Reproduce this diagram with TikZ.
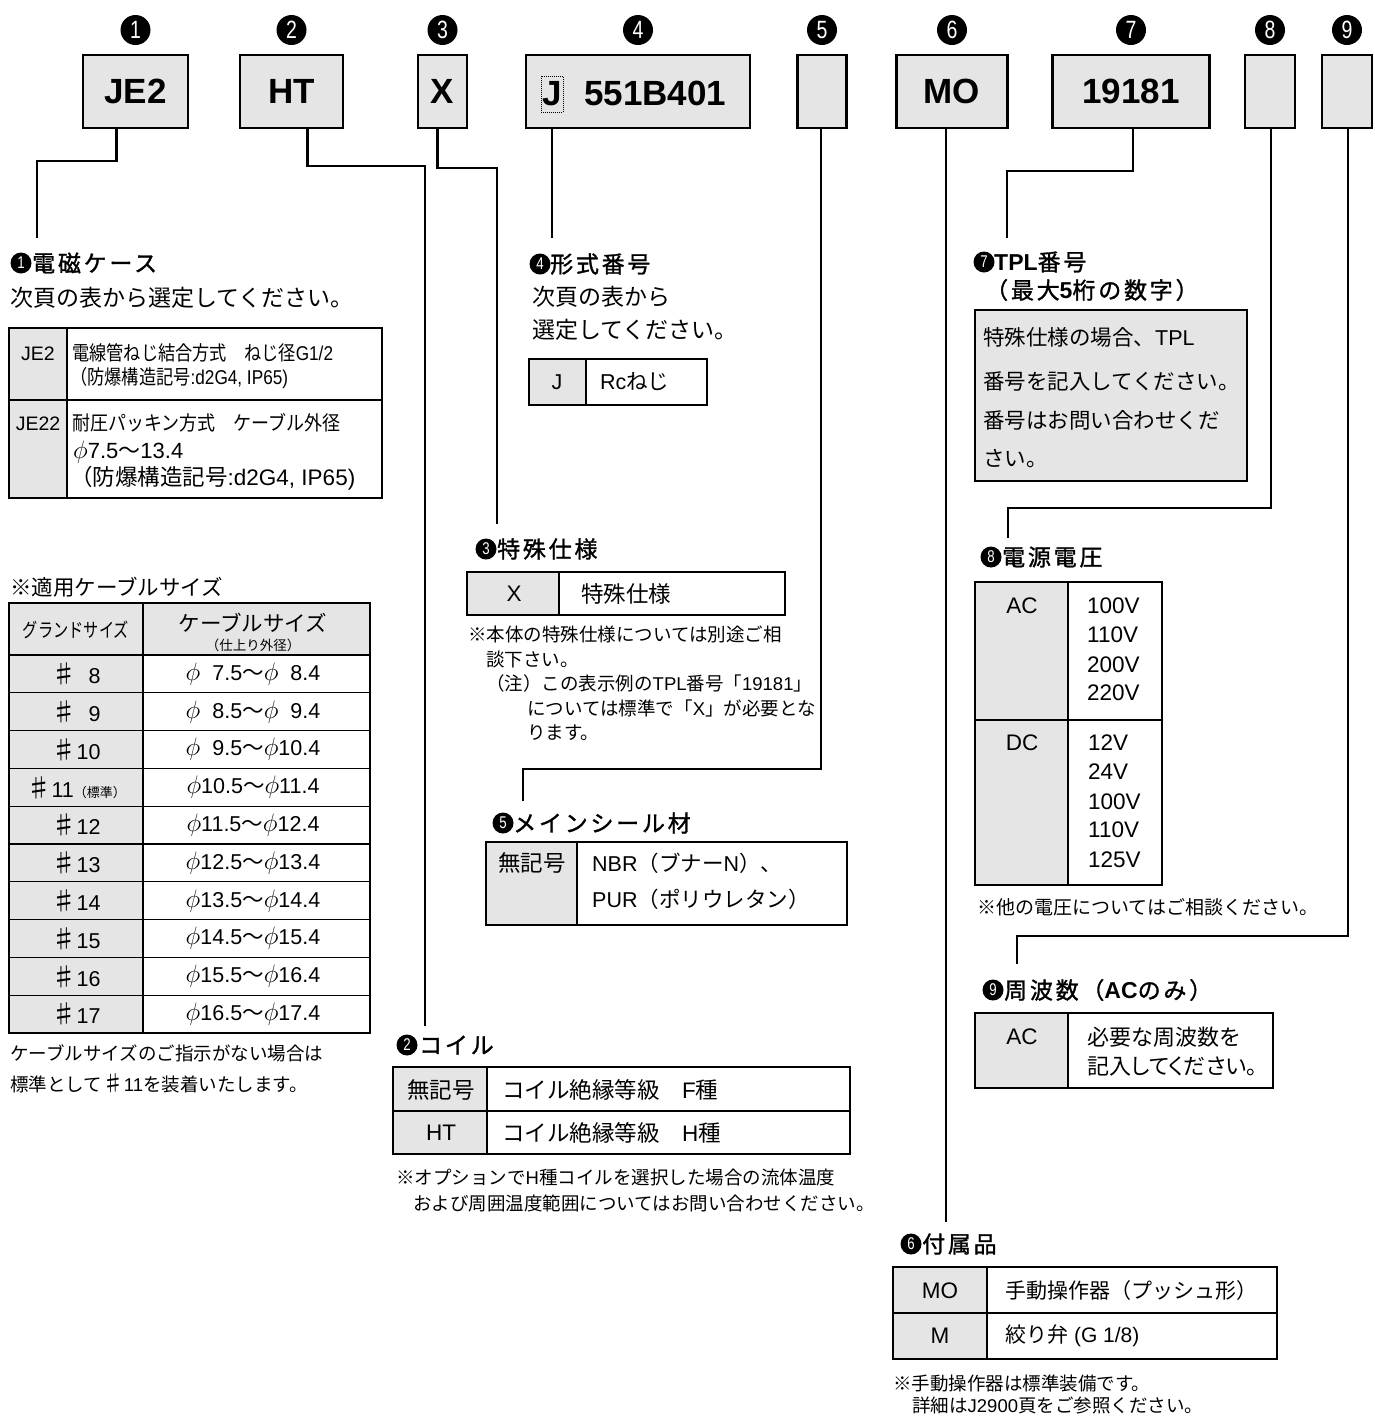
\documentclass[tikz,border=0pt]{standalone}
\usepackage{fontspec}
\usepackage{graphicx}
\usetikzlibrary{calc}
\setmainfont{Liberation Sans}
\newfontfamily\latf{Liberation Sans}
\newfontfamily\jpf{Noto Sans CJK JP}
\newfontfamily\jppf{Noto Sans CJK JP}[RawFeature=+palt]
\newfontfamily\jphf{Noto Sans CJK JP}[LetterSpace=12, BoldFont=Noto Sans CJK JP, BoldFeatures={FakeBold=1.3}]
\newfontfamily\numf{Liberation Sans}[FakeStretch=0.78]
\XeTeXinterchartokenstate=1
\newXeTeXintercharclass\jpcls
\newcount\jpcnt
\def\setjprange#1#2{\jpcnt=#1\relax
  \loop
    \XeTeXcharclass\jpcnt=\jpcls
  \ifnum\jpcnt<#2\relax
    \advance\jpcnt by 1\relax
  \repeat}
\setjprange{"3000}{"30FF}
\setjprange{"4E00}{"9FFF}
\setjprange{"FF00}{"FFEF}
\XeTeXcharclass"203B=\jpcls
\XeTeXcharclass"266F=\jpcls
\XeTeXinterchartoks 0 \jpcls = {\jpf}
\XeTeXinterchartoks 4095 \jpcls = {\jpf}
\XeTeXinterchartoks \jpcls 0 = {\latf}
\XeTeXinterchartoks \jpcls 4095 = {\latf}
\newcommand\fsz[2]{\fontsize{#1}{#2}\selectfont}
\newcommand\phis{\scalebox{1.22}{$\phi$}}
\newcommand\shp{\scalebox{1.18}{♯}}
\definecolor{bg}{RGB}{229,229,229}
\tikzset{
  topbox/.style={draw, line width=2.4pt, fill=bg, minimum height=73pt, inner sep=0pt, font=\bfseries\fsz{35}{40}},
  bignum/.style={circle, fill=black, text=white, inner sep=0pt, minimum size=30pt, font=\numf\fsz{25}{25}},
  smnum/.style={circle, fill=black, text=white, inner sep=0pt, minimum size=21pt, font=\numf\fsz{17}{17}},
  conn/.style={line width=2.2pt},
  lbl/.style={inner sep=0pt, anchor=west},
  ctr/.style={inner sep=0pt, anchor=center},
  head/.style={lbl, font=\bfseries\let\jpf\jphf\fsz{23}{28}},
  outer/.style={line width=2.6pt},
  inner/.style={line width=1.3pt},
  note/.style={lbl, font=\fsz{18.5}{22}},
  cell/.style={font=\fsz{22.5}{26}},
}
\begin{document}
\begin{tikzpicture}[x=1pt,y=-1pt]
\useasboundingbox (0,0) rectangle (1375,1417);
\fill[white] (0,0) rectangle (1375,1417);

% ---------- top code boxes ----------
\node[topbox, minimum width=105pt] (b1) at (135.5,91.5) {JE2};
\node[topbox, minimum width=103pt] (b2) at (291.5,91.5) {HT};
\node[topbox, minimum width=49pt] (b3) at (442.5,91.5) {X};
\node[topbox, minimum width=224pt] (b4) at (638,91.5) {};
\node[ctr, draw, densely dotted, line width=1pt, minimum width=22pt, minimum height=36pt, font=\bfseries\fsz{35}{40}] (b4j) at (552,94) {J};
\node[lbl, font=\bfseries\fsz{35}{40}] (b4n) at (584,93) {551B401};
\node[topbox, minimum width=49pt] (b5) at (822,91.5) {};
\node[topbox, minimum width=111pt] (b6) at (952,91.5) {MO};
\node[topbox, minimum width=157pt] (b7) at (1131,91.5) {19181};
\node[topbox, minimum width=50pt] (b8) at (1270,91.5) {};
\node[topbox, minimum width=50pt] (b9) at (1347,91.5) {};

\node[bignum] (n1) at (135.5,30) {1};
\node[bignum] (n2) at (291.5,30) {2};
\node[bignum] (n3) at (442.5,30) {3};
\node[bignum] (n4) at (638,30) {4};
\node[bignum] (n5) at (822,30) {5};
\node[bignum] (n6) at (952,30) {6};
\node[bignum] (n7) at (1131,30) {7};
\node[bignum] (n8) at (1270,30) {8};
\node[bignum] (n9) at (1347,30) {9};

% ---------- headings ----------
\node[smnum] (h1n) at (21,263) {1};
\node[head] (h1) at (32,263) {電磁ケース};
\node[smnum] (h4n) at (540,264) {4};
\node[head] (h4) at (550,264) {形式番号};
\node[smnum] (h3n) at (486,549) {3};
\node[head] (h3) at (497,549) {特殊仕様};
\node[smnum] (h5n) at (503,823) {5};
\node[head] (h5) at (513,823) {メインシール材};
\node[smnum] (h2n) at (407,1045) {2};
\node[head] (h2) at (419,1045) {コイル};
\node[smnum] (h7n) at (984,262) {7};
\node[head] (h7) at (994,262) {TPL番号};
\node[head] (h7b) at (985,290) {（最大5桁の数字）};
\node[smnum] (h8n) at (991,557) {8};
\node[head] (h8) at (1002,557) {電源電圧};
\node[smnum] (h9n) at (993,990) {9};
\node[head] (h9) at (1004,990) {周波数（ACのみ）};
\node[smnum] (h6n) at (911,1244) {6};
\node[head] (h6) at (922,1244) {付属品};

% ---------- connectors ----------
\coordinate (e1) at (37,238);
\coordinate (e2) at (425,1026);
\coordinate (e3) at (497,524);
\coordinate (e4) at (552,238);
\coordinate (e5) at (523,801);
\coordinate (e6) at (946,1222);
\coordinate (e7) at (1007,238);
\coordinate (e8) at (1008,538);
\coordinate (e9) at (1017,964);
\draw[conn] ([xshift=-19pt]b1.south) -- ++(0,32) -| (e1);
\draw[conn] ([xshift=16pt]b2.south) -- ++(0,37) -| (e2);
\draw[conn] ([xshift=-5pt]b3.south) -- ++(0,39) -| (e3);
\draw[conn] (b4.south -| b4j.south) -- (e4);
\draw[conn] ([xshift=-1pt]b5.south) -- ++(0,640) -| (e5);
\draw[conn] ([xshift=-6pt]b6.south) -- (e6);
\draw[conn] ([xshift=2pt]b7.south) -- ++(0,42) -| (e7);
\draw[conn] ([xshift=1pt]b8.south) -- ++(0,379) -| (e8);
\draw[conn] ([xshift=1pt]b9.south) -- ++(0,807) -| (e9);

% ---------- section 1 ----------
\node[lbl, font=\fsz{23}{28}] (s1a) at (10,298) {次頁の表から選定してください。};
\fill[bg] (9,328) rectangle (67,498);
\draw[inner] (67,328) -- (67,498);
\draw[inner] (9,400) -- (382,400);
\draw[outer] (9,328) rectangle (382,498);
\node[ctr, font=\fsz{19.5}{22}] (t1k1) at (38,354) {JE2};
\node[lbl, font=\fsz{20}{22}] (t1v1) at (72,353) {\scalebox{0.86}[1]{電線管ねじ結合方式　ねじ径G1/2}};
\node[lbl, font=\fsz{20}{22}] (t1v1b) at (70,378) {\scalebox{0.86}[1]{（防爆構造記号:d2G4, IP65)}};
\node[ctr, font=\fsz{19.5}{22}] (t1k2) at (38,424) {JE22};
\node[lbl, font=\fsz{20}{22}] (t1v2) at (72,423) {\scalebox{0.9}[1]{耐圧パッキン方式　ケーブル外径}};
\node[lbl, font=\fsz{22}{26}] (t1v2b) at (73,452) {\phis7.5〜13.4};
\node[lbl, font=\fsz{22.5}{26}] (t1v2c) at (70,478) {（防爆構造記号:d2G4, IP65)};

% ---------- cable size table ----------
\node[lbl, font=\fsz{21.5}{26}] (cst) at (10,587) {※適用ケーブルサイズ};
\fill[bg] (9,603) rectangle (370,655);
\fill[bg] (9,603) rectangle (143,1033);
\draw[inner] (143,603) -- (143,1033);
\foreach \k in {0,...,9} { \draw[inner] (9,{655+37.8*\k}) -- (370,{655+37.8*\k}); }
\draw[outer] (9,603) rectangle (370,1033);
\node[ctr, font=\fsz{19.5}{22}] (cgh) at (76,630) {\scalebox{0.78}[1]{グランドサイズ}};
\node[ctr, font=\fsz{21.5}{24}] (csh) at (253,623) {ケーブルサイズ};
\node[ctr, font=\fsz{13.5}{16}] (csh2) at (253,645) {（仕上り外径）};
\foreach \i/\g/\c in {
  0/{\shp\hphantom{1}8}/{\phis\hphantom{1}7.5〜\phis\hphantom{1}8.4},
  1/{\shp\hphantom{1}9}/{\phis\hphantom{1}8.5〜\phis\hphantom{1}9.4},
  2/{\shp10}/{\phis\hphantom{1}9.5〜\phis10.4},
  3/{\shp11{\fsz{13}{14}（標準）}}/{\phis10.5〜\phis11.4},
  4/{\shp12}/{\phis11.5〜\phis12.4},
  5/{\shp13}/{\phis12.5〜\phis13.4},
  6/{\shp14}/{\phis13.5〜\phis14.4},
  7/{\shp15}/{\phis14.5〜\phis15.4},
  8/{\shp16}/{\phis15.5〜\phis16.4},
  9/{\shp17}/{\phis16.5〜\phis17.4}} {
  \node[ctr, font=\fsz{21.5}{24}] (cg\i) at (76,{674+37.8*\i}) {\g};
  \node[ctr, font=\fsz{21.5}{24}] (cs\i) at (253,{674+37.8*\i}) {\c};
}
\node[note] (csn1) at (10,1053) {ケーブルサイズのご指示がない場合は};
\node[note] (csn2) at (10,1083) {標準として\shp11を装着いたします。};

% ---------- section 4 ----------
\node[lbl, font=\fsz{23}{28}] (s4a) at (532,297) {次頁の表から};
\node[lbl, font=\fsz{23}{28}] (s4b) at (532,330) {選定してください。};
\fill[bg] (529,359) rectangle (586,405);
\draw[inner] (586,359) -- (586,405);
\draw[outer] (529,359) rectangle (707,405);
\node[ctr, font=\fsz{21.5}{24}] (t4k) at (557,382) {J};
\node[lbl, font=\fsz{21.5}{24}] (t4v) at (600,382) {Rcねじ};

% ---------- section 3 ----------
\fill[bg] (467,572) rectangle (559,615);
\draw[inner] (559,572) -- (559,615);
\draw[outer] (467,572) rectangle (785,615);
\node[ctr, cell] (t3k) at (514,594) {X};
\node[lbl, cell] (t3v) at (581,594) {特殊仕様};
\node[note] (n3a) at (468,634) {※本体の特殊仕様については別途ご相};
\node[note] (n3b) at (486,659) {談下さい。};
\node[note] (n3c) at (486,683) {（注）この表示例のTPL番号「19181」};
\node[note] (n3d) at (527,708) {については標準で「X」が必要とな};
\node[note] (n3e) at (527,733) {ります。};

% ---------- section 5 ----------
\fill[bg] (486,842) rectangle (577,925);
\draw[inner] (577,842) -- (577,925);
\draw[outer] (486,842) rectangle (847,925);
\node[ctr, cell] (t5k) at (532,863) {無記号};
\node[lbl, font=\fsz{21.5}{24}] (t5v1) at (592,863) {NBR（ブナーN）、};
\node[lbl, font=\fsz{21.5}{24}] (t5v2) at (592,899) {PUR（ポリウレタン）};

% ---------- section 2 ----------
\fill[bg] (393,1067) rectangle (487,1154);
\draw[inner] (487,1067) -- (487,1154);
\draw[inner] (393,1111) -- (850,1111);
\draw[outer] (393,1067) rectangle (850,1154);
\node[ctr, cell] (t2k1) at (441,1090) {無記号};
\node[lbl, cell] (t2v1) at (502,1090) {コイル絶縁等級　F種};
\node[ctr, cell] (t2k2) at (441,1133) {HT};
\node[lbl, cell] (t2v2) at (502,1133) {コイル絶縁等級　H種};
\node[note] (n2a) at (396,1177) {※オプションでH種コイルを選択した場合の流体温度};
\node[note] (n2b) at (413,1203) {および周囲温度範囲についてはお問い合わせください。};

% ---------- section 7 ----------
\draw[outer, fill=bg] (975,310) rectangle (1247,481);
\node[lbl, font=\fsz{21.5}{26}] (t7a) at (983,337) {特殊仕様の場合、TPL};
\node[lbl, font=\fsz{21.5}{26}] (t7b) at (983,381) {番号を記入してください。};
\node[lbl, font=\fsz{21.5}{26}] (t7c) at (983,420) {番号はお問い合わせくだ};
\node[lbl, font=\fsz{21.5}{26}] (t7d) at (983,459) {さい。};

% ---------- section 8 ----------
\fill[bg] (975,582) rectangle (1068,885);
\draw[inner] (1068,582) -- (1068,885);
\draw[inner] (975,720) -- (1162,720);
\draw[outer] (975,582) rectangle (1162,885);
\node[ctr, cell] (t8k1) at (1022,606) {AC};
\node[ctr, cell] (t8k2) at (1022,743) {DC};
\node[lbl, cell] (v1) at (1087,606) {100V};
\node[lbl, cell] (v2) at (1087,635) {110V};
\node[lbl, cell] (v3) at (1087,665) {200V};
\node[lbl, cell] (v4) at (1087,693) {220V};
\node[lbl, cell] (v5) at (1088,743) {12V};
\node[lbl, cell] (v6) at (1088,772) {24V};
\node[lbl, cell] (v7) at (1088,802) {100V};
\node[lbl, cell] (v8) at (1088,830) {110V};
\node[lbl, cell] (v9) at (1088,860) {125V};
\node[lbl, font=\fsz{19}{22}] (n8) at (977,907) {※他の電圧についてはご相談ください。};

% ---------- section 9 ----------
\fill[bg] (975,1013) rectangle (1068,1088);
\draw[inner] (1068,1013) -- (1068,1088);
\draw[outer] (975,1013) rectangle (1273,1088);
\node[ctr, cell] (t9k) at (1022,1037) {AC};
\node[lbl, font=\fsz{22}{26}] (t9v1) at (1087,1037) {必要な周波数を};
\node[lbl, font=\let\jpf\jppf\fsz{22}{26}] (t9v2) at (1087,1066) {記入してください。};

% ---------- section 6 ----------
\fill[bg] (893,1267) rectangle (987,1359);
\draw[inner] (987,1267) -- (987,1359);
\draw[inner] (893,1313) -- (1277,1313);
\draw[outer] (893,1267) rectangle (1277,1359);
\node[ctr, cell] (t6k1) at (940,1291) {MO};
\node[ctr, cell] (t6k2) at (940,1336) {M};
\node[lbl, font=\fsz{21}{24}] (t6v1) at (1005,1291) {手動操作器（プッシュ形）};
\node[lbl, font=\fsz{21}{24}] (t6v2) at (1005,1336) {絞り弁 (G 1/8)};
\node[note] (n6a) at (893,1383) {※手動操作器は標準装備です。};
\node[note] (n6b) at (912,1405) {詳細はJ2900頁をご参照ください。};
\end{tikzpicture}
\end{document}
